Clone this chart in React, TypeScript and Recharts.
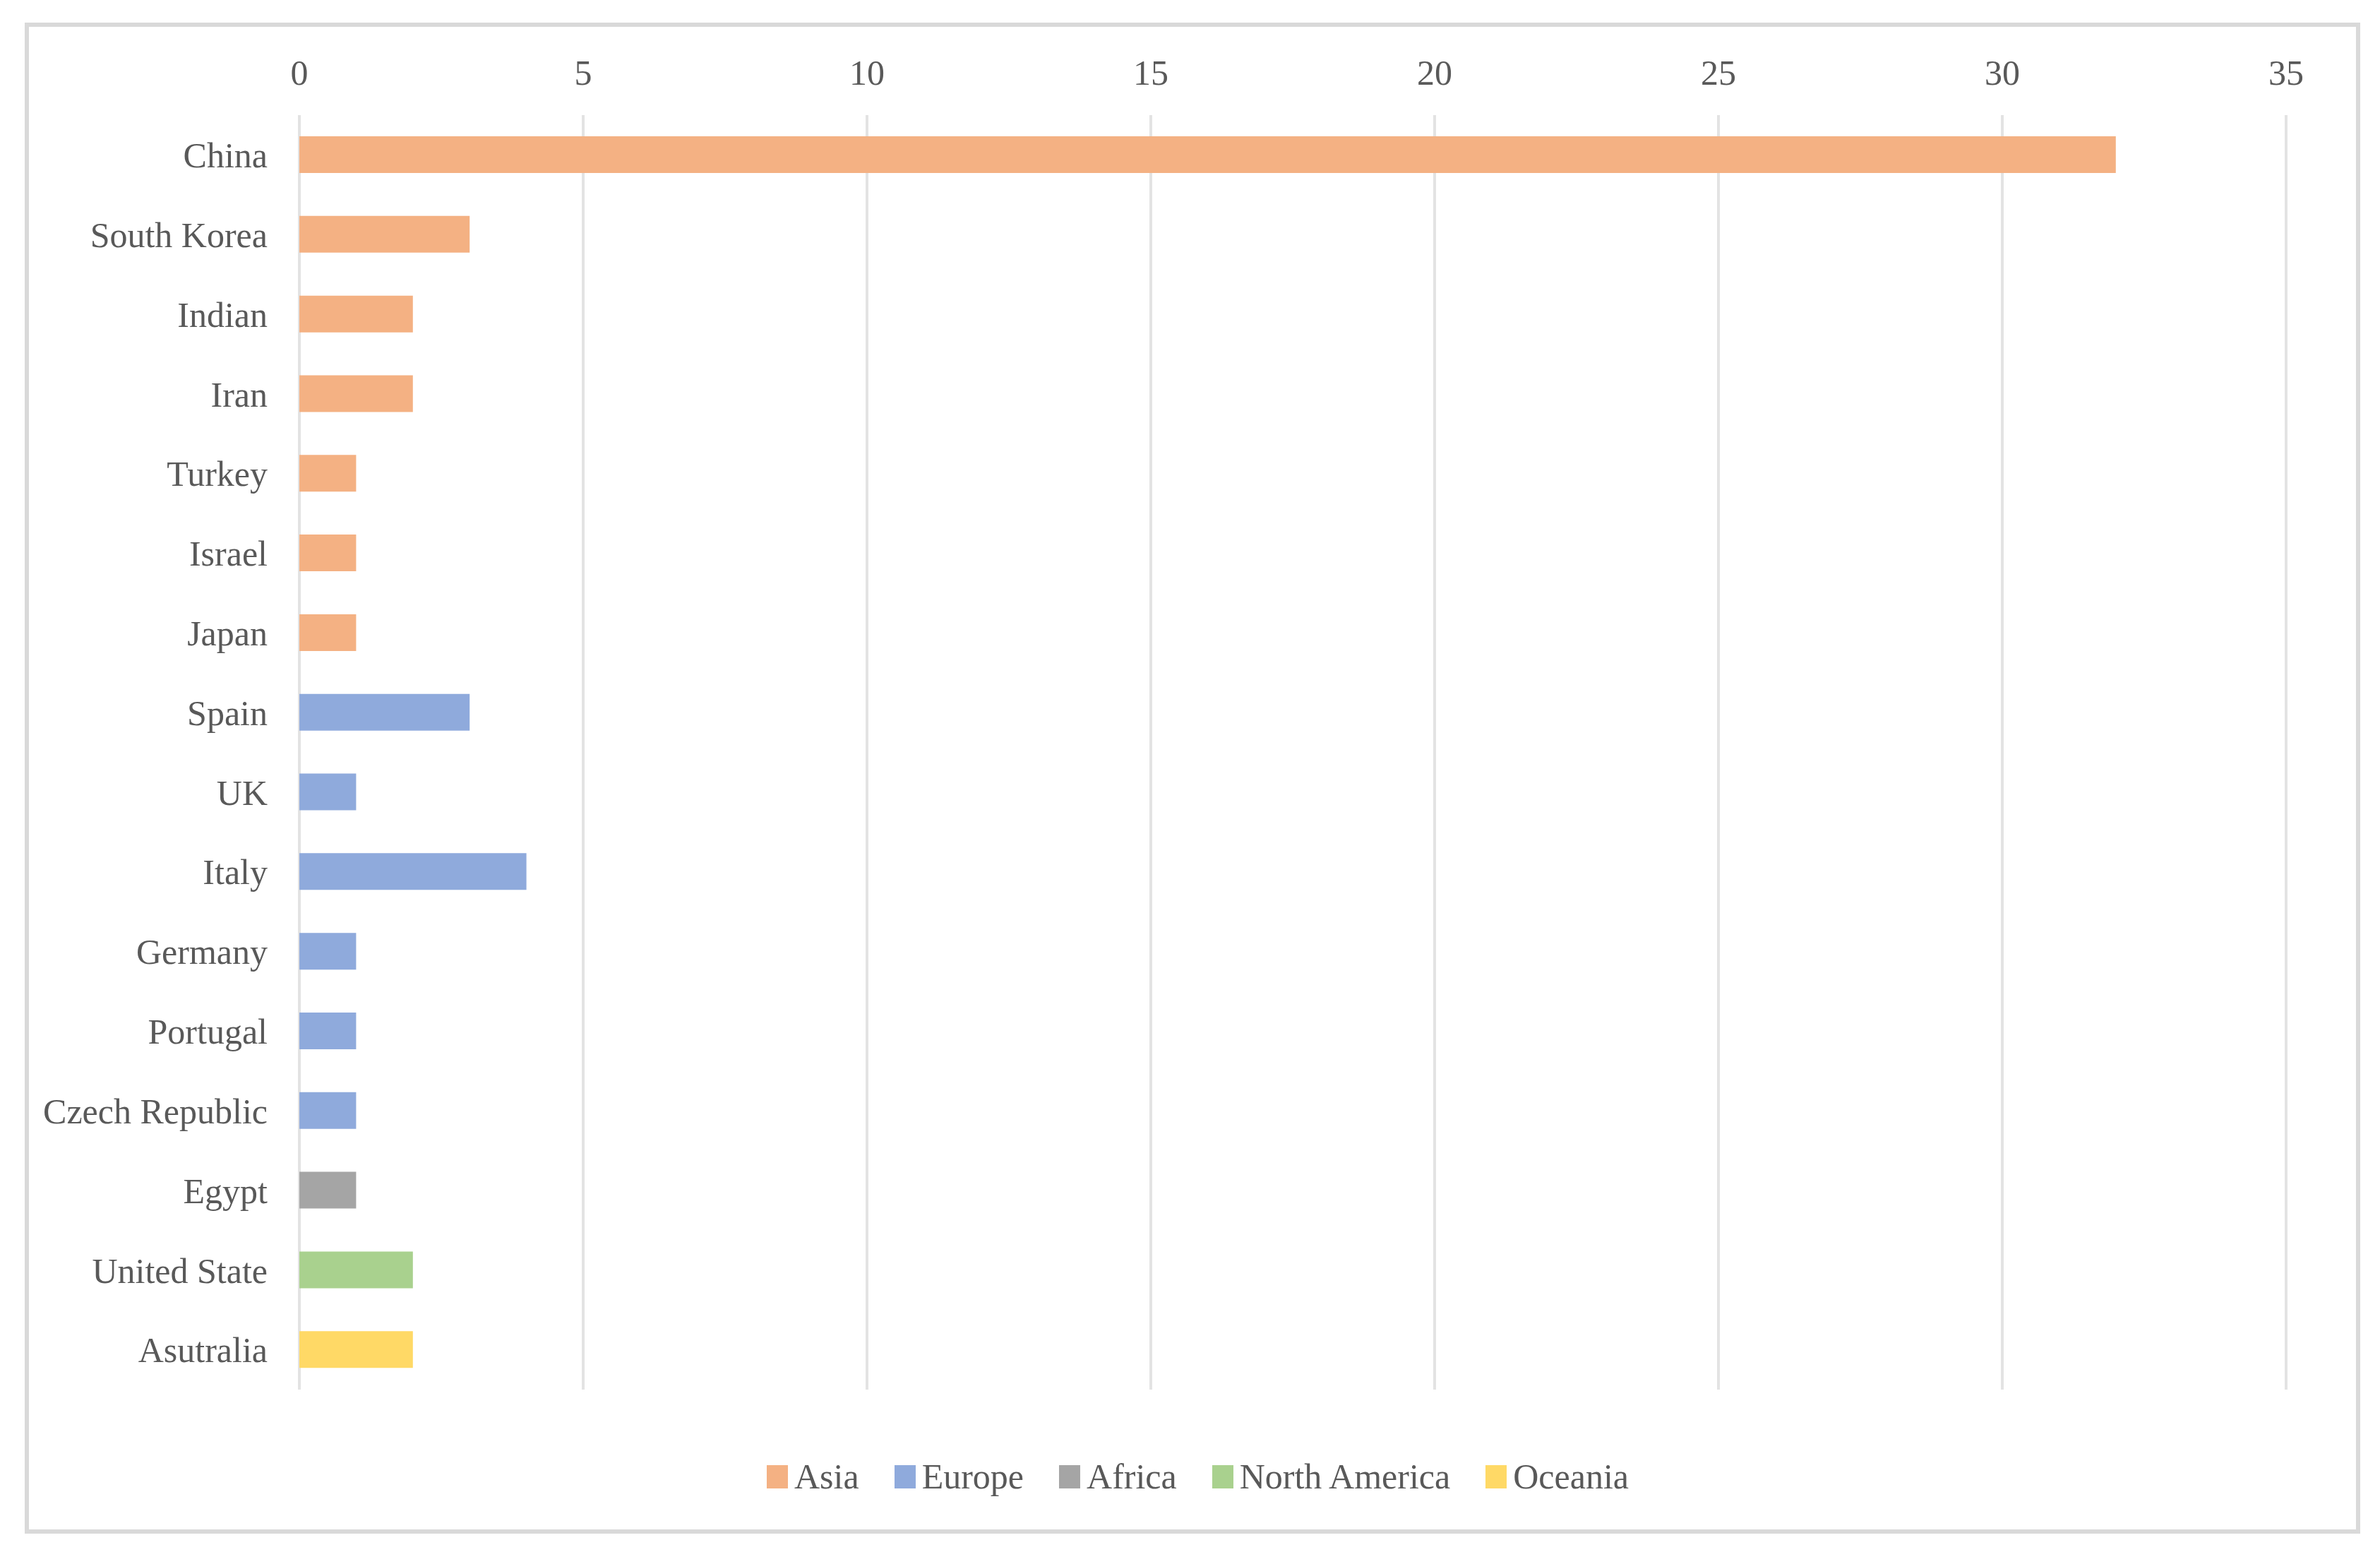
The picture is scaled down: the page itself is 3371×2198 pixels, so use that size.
import React from "react";
import { Bar, BarChart, CartesianGrid, Legend, XAxis, YAxis } from "recharts";

const categories = [
    "China", "South Korea", "Indian", "Iran", "Turkey", "Israel", "Japan",
    "Spain", "UK", "Italy", "Germany", "Portugal", "Czech Republic",
    "Egypt", "United State", "Asutralia",
];

const asia = [32, 3, 2, 2, 1, 1, 1, null, null, null, null, null, null, null, null, null];
const europe = [null, null, null, null, null, null, null, 3, 1, 4, 1, 1, 1, null, null, null];
const africa = [null, null, null, null, null, null, null, null, null, null, null, null, null, 1, null, null];
const northAmerica = [null, null, null, null, null, null, null, null, null, null, null, null, null, null, 2, null];
const oceania = [null, null, null, null, null, null, null, null, null, null, null, null, null, null, null, 2];

const xTicks = [0, 5, 10, 15, 20, 25, 30, 35];

const series = [
    { key: "Asia", values: asia, color: "#F4B183" },
    { key: "Europe", values: europe, color: "#8FAADC" },
    { key: "Africa", values: africa, color: "#A5A5A5" },
    { key: "North America", values: northAmerica, color: "#A9D18E" },
    { key: "Oceania", values: oceania, color: "#FFD966" },
];

const rows = categories.map((country, i) => {
    const row: Record<string, string | number | null> = { country };
    series.forEach((s) => {
        row[s.key] = s.values[i];
    });
    return row;
});

const FONT = "'Liberation Serif', 'Times New Roman', serif";
const TEXT = "#595959";

// keep the legend in series order (recharts sorts it by name otherwise)
function RegionLegend(props: any) {
    const payload = props.payload || [];
    const items = series
        .map((s) => payload.find((p: any) => p.value === s.key || p.dataKey === s.key))
        .filter(Boolean);
    return (
        <div
            style={{
                display: "flex",
                justifyContent: "center",
                alignItems: "center",
                paddingLeft: 22,
                fontFamily: FONT,
                fontSize: 50,
                color: TEXT,
            }}
        >
            {items.map((item: any, i: number) => (
                <div
                    key={item.value}
                    style={{
                        display: "flex",
                        alignItems: "center",
                        marginRight: i === items.length - 1 ? 0 : 50,
                    }}
                >
                    <span
                        style={{
                            display: "inline-block",
                            width: 30,
                            height: 33,
                            background: item.color,
                            marginRight: 9,
                        }}
                    />
                    <span>{item.value}</span>
                </div>
            ))}
        </div>
    );
}

export default function App() {
    return (
        <div style={{ position: "absolute", left: 0, top: 0, width: 3371, height: 2198, background: "#fff" }}>
            <div
                style={{
                    position: "absolute",
                    left: 35,
                    top: 32,
                    width: 3308,
                    height: 2140,
                    boxSizing: "border-box",
                    border: "6px solid #D9D9D9",
                }}
            />
            <div style={{ position: "absolute", left: 0, top: 0 }}>
                <BarChart
                    width={3371}
                    height={2198}
                    data={rows}
                    layout="vertical"
                    barSize={52}
                    margin={{ top: 0, right: 133, bottom: 230, left: 0 }}
                >
                    <CartesianGrid horizontal={false} stroke="#E3E3E3" strokeWidth={4} />
                    <XAxis
                        type="number"
                        orientation="top"
                        domain={[0, 35]}
                        ticks={xTicks}
                        height={163}
                        axisLine={false}
                        tickLine={false}
                        tickSize={0}
                        tickMargin={43}
                        tick={{ fill: TEXT, fontSize: 50, fontFamily: FONT }}
                    />
                    <YAxis
                        type="category"
                        dataKey="country"
                        width={424}
                        axisLine={false}
                        tickLine={false}
                        tickSize={0}
                        tickMargin={45}
                        interval={0}
                        tick={{ fill: TEXT, fontSize: 50, fontFamily: FONT }}
                    />
                    {series.map((s) => (
                        <Bar
                            key={s.key}
                            dataKey={s.key}
                            stackId="region"
                            fill={s.color}
                            isAnimationActive={false}
                        />
                    ))}
                    <Legend
                        verticalAlign="middle"
                        align="center"
                        layout="horizontal"
                        content={<RegionLegend />}
                        wrapperStyle={{ top: 2062, left: 0, width: 3371 }}
                    />
                </BarChart>
            </div>
        </div>
    );
}
